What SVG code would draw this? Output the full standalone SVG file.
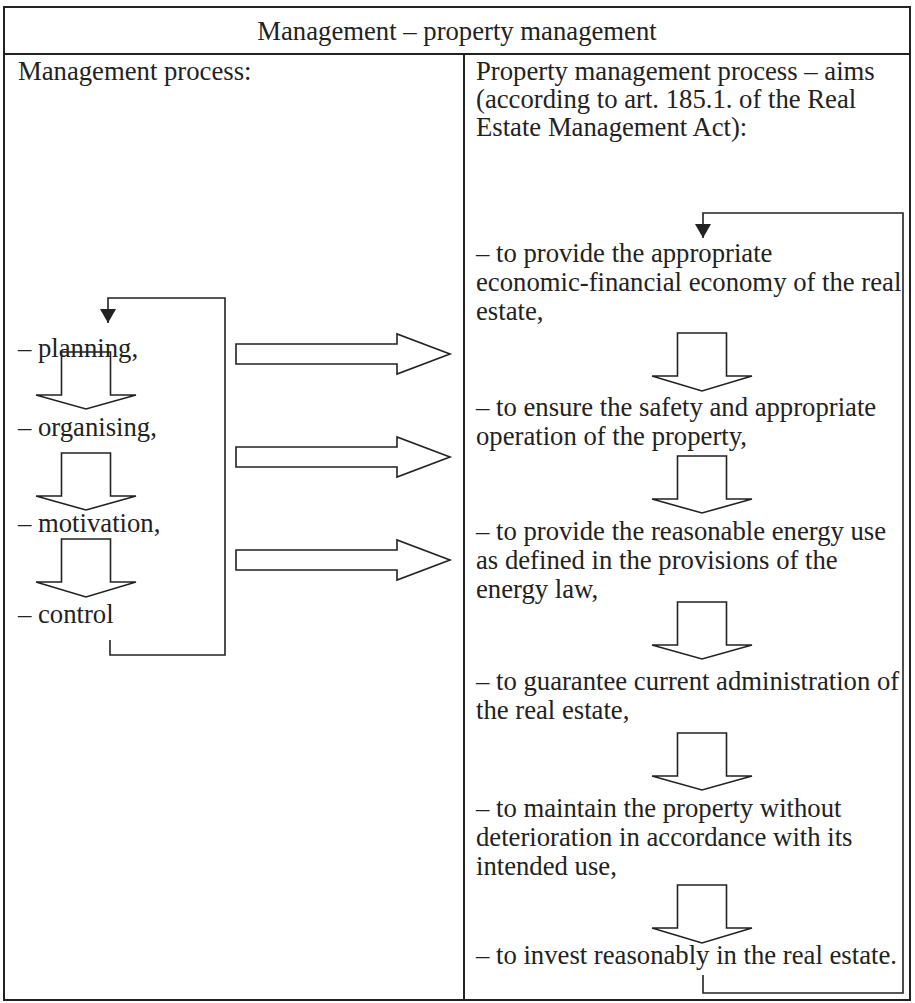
<svg xmlns="http://www.w3.org/2000/svg" width="915" height="1003" viewBox="0 0 915 1003">
<style>
text{font-family:"Liberation Serif","Times New Roman",serif;font-size:26.7px;fill:#222}
.frame{fill:none;stroke:#222;stroke-width:2}
.blk{fill:none;stroke:#222;stroke-width:1.6;stroke-linejoin:miter}
.loop{fill:none;stroke:#222;stroke-width:1.6}
</style>
<defs>
<marker id="ah" markerUnits="userSpaceOnUse" markerWidth="16" markerHeight="16" viewBox="0 0 16 16" refX="14" refY="8" orient="auto">
<path d="M0,0 L14,8 L0,16 Z" fill="#222"/>
</marker>
</defs>
<rect fill="#fff" x="0" y="0" width="915" height="1003"/>
<g id="table">
<rect class="frame" x="4" y="7" width="906" height="993"/>
<line class="frame" x1="4" y1="54" x2="910" y2="54"/>
<line class="frame" x1="464" y1="54" x2="464" y2="1000"/>
</g>
<g id="header"><text x="457" y="40" text-anchor="middle">Management – property management</text></g>
<g id="left-title"><text x="18" y="80">Management process:</text></g>
<g id="right-title">
<text x="476" y="80">Property management process – aims</text>
<text x="476" y="108">(according to art. 185.1. of the Real</text>
<text x="476" y="136">Estate Management Act):</text>
</g>
<g id="left-steps">
<text x="18" y="357">– planning,</text>
<text x="18" y="436">– organising,</text>
<text x="18" y="532">– motivation,</text>
<text x="18" y="623">– control</text>
<path class="blk" d="M61.5,352 H110.5 V395 H136 L86,409 L36,395 H61.5 Z"/>
<path class="blk" d="M61.5,453 H110.5 V496 H136 L86,510 L36,496 H61.5 Z"/>
<path class="blk" d="M61.5,539 H110.5 V582 H136 L86,597 L36,582 H61.5 Z"/>
</g>
<g id="right-aims">
<text x="476" y="262">– to provide the appropriate</text>
<text x="476" y="291">economic-financial economy of the real</text>
<text x="476" y="320">estate,</text>
<text x="476" y="416">– to ensure the safety and appropriate</text>
<text x="476" y="445">operation of the property,</text>
<text x="476" y="540">– to provide the reasonable energy use</text>
<text x="476" y="569">as defined in the provisions of the</text>
<text x="476" y="598">energy law,</text>
<text x="476" y="690">– to guarantee current administration of</text>
<text x="476" y="719">the real estate,</text>
<text x="476" y="817">– to maintain the property without</text>
<text x="476" y="846">deterioration in accordance with its</text>
<text x="476" y="875">intended use,</text>
<text x="476" y="964">– to invest reasonably in the real estate.</text>
<path class="blk" d="M677.5,333 H726.5 V376 H752 L702,391 L652,376 H677.5 Z"/>
<path class="blk" d="M677.5,456 H726.5 V499 H752 L702,513 L652,499 H677.5 Z"/>
<path class="blk" d="M677.5,602 H726.5 V645 H752 L702,659 L652,645 H677.5 Z"/>
<path class="blk" d="M677.5,733 H726.5 V776 H752 L702,790 L652,776 H677.5 Z"/>
<path class="blk" d="M677.5,885 H726.5 V928 H752 L702,943 L652,928 H677.5 Z"/>
</g>
<g id="connectors">
<path class="blk" d="M236,344 H397 V334 L450,354 L397,374 V364 H236 Z"/>
<path class="blk" d="M236,447 H397 V437 L450,457 L397,477 V467 H236 Z"/>
<path class="blk" d="M236,550 H397 V540 L450,560 L397,580 V570 H236 Z"/>
<path class="loop" d="M110,640 V655 H225 V298 H108 V323" marker-end="url(#ah)"/>
<path class="loop" d="M703,975 V993 H903 V213 H703 V238" marker-end="url(#ah)"/>
</g>
</svg>
